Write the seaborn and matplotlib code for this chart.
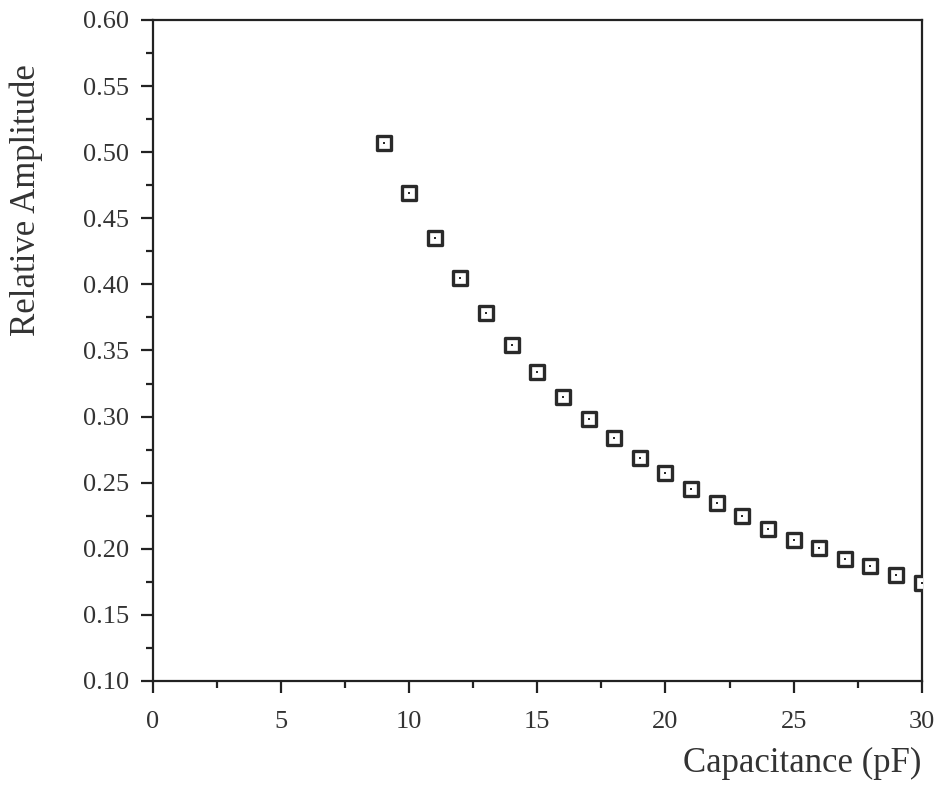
import matplotlib
matplotlib.use("Agg")
import matplotlib.pyplot as plt
import seaborn as sns
import pandas as pd
from matplotlib.ticker import MultipleLocator, FormatStrFormatter

capacitance = [9, 10, 11, 12, 13, 14, 15, 16, 17, 18, 19, 20, 21, 22, 23, 24, 25, 26, 27, 28, 29, 30]
amplitude = [0.507, 0.469, 0.435, 0.405, 0.378, 0.354, 0.334, 0.315, 0.298, 0.284, 0.269,
             0.257, 0.245, 0.235, 0.225, 0.215, 0.207, 0.2005, 0.192, 0.187, 0.180, 0.1745]

df = pd.DataFrame({"Capacitance": capacitance, "Amplitude": amplitude})

sns.set_theme(style="ticks")
plt.rcParams['font.family'] = ['Liberation Serif', 'DejaVu Serif']

fig = plt.figure(figsize=(9.36, 7.87), dpi=100)
ax = fig.add_axes([0.1635, 0.1347, 0.8212, 0.8399])

sns.scatterplot(data=df, x="Capacitance", y="Amplitude", ax=ax, marker="s", s=90,
                facecolor="white", edgecolor="#2a2a2a", linewidth=2.4, zorder=3)
sns.scatterplot(data=df, x="Capacitance", y="Amplitude", ax=ax, marker="s", s=4,
                color="#2a2a2a", linewidth=0, zorder=4)

ax.set_xlim(0, 30)
ax.set_ylim(0.10, 0.60)
ax.xaxis.set_major_locator(MultipleLocator(5))
ax.xaxis.set_minor_locator(MultipleLocator(2.5))
ax.yaxis.set_major_locator(MultipleLocator(0.05))
ax.yaxis.set_minor_locator(MultipleLocator(0.025))
ax.yaxis.set_major_formatter(FormatStrFormatter("%.2f"))

for sp in ax.spines.values():
    sp.set_visible(True)
    sp.set_linewidth(1.6)
    sp.set_color("#222222")

ax.tick_params(axis="both", which="major", direction="out", length=8.5, width=1.6,
               colors="#222222", labelsize=19, labelcolor="#333333")
ax.tick_params(axis="both", which="minor", direction="out", length=5, width=1.6,
               colors="#222222")
ax.tick_params(axis="x", which="major", pad=13)
ax.tick_params(axis="y", which="major", pad=9)

ax.set_xlabel("Capacitance (pF)", fontsize=25, color="#333333", loc="right", labelpad=10)
ax.set_ylabel("Relative Amplitude", fontsize=25, color="#333333")
ax.yaxis.set_label_coords(-0.143, 0.728)

fig.savefig("out.png", dpi=100, facecolor="white")
